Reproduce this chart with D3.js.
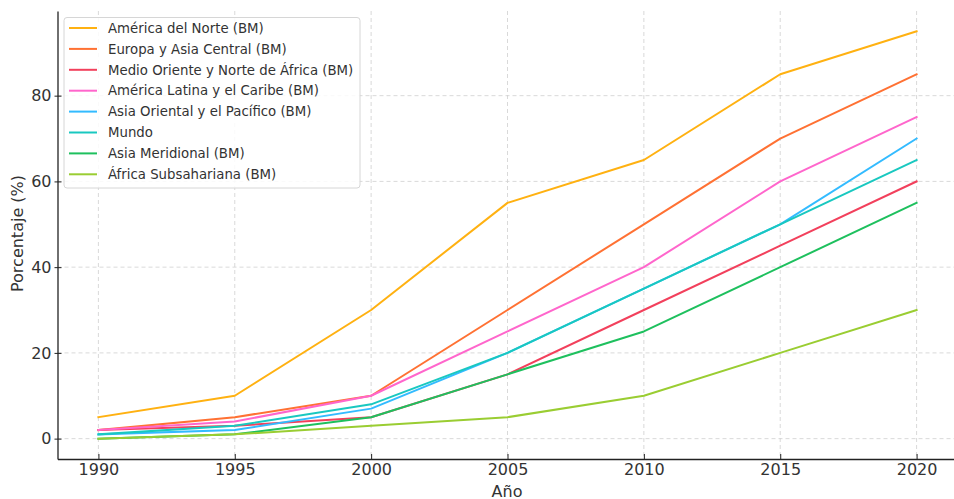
<!DOCTYPE html>
<html>
<head>
<meta charset="utf-8">
<script src="https://cdn.jsdelivr.net/npm/d3@7"></script>
<style>
  html, body { margin: 0; padding: 0; background: #fff; }
  svg { display: block; font-family: "DejaVu Sans", sans-serif; }
</style>
</head>
<body>
<svg id="chart" width="954" height="499"></svg>
<script>
// Years on the x axis
const years = [1990, 1995, 2000, 2005, 2010, 2015, 2020];

// Region names (legend order)
const regions = [
  "América del Norte (BM)",
  "Europa y Asia Central (BM)",
  "Medio Oriente y Norte de África (BM)",
  "América Latina y el Caribe (BM)",
  "Asia Oriental y el Pacífico (BM)",
  "Mundo",
  "Asia Meridional (BM)",
  "África Subsahariana (BM)"
];

// Percentage values per region, one per year
const norteAmerica   = [5, 10, 30, 55, 65, 85, 95];
const europaAsia     = [2, 5, 10, 30, 50, 70, 85];
const medioOriente   = [2, 3, 5, 15, 30, 45, 60];
const americaLatina  = [2, 4, 10, 25, 40, 60, 75];
const asiaOriental   = [1, 2, 7, 20, 35, 50, 70];
const mundo          = [1, 3, 8, 20, 35, 50, 65];
const asiaMeridional = [0, 1, 5, 15, 25, 40, 55];
const africaSub      = [0, 1, 3, 5, 10, 20, 30];

const seriesValues = [norteAmerica, europaAsia, medioOriente, americaLatina,
                      asiaOriental, mundo, asiaMeridional, africaSub];

const colors = ["#ffb111", "#ff7133", "#f2405c", "#ff66cc",
                "#33bbff", "#19c8c0", "#1ec05e", "#9acd32"];

const xTicks = years;
const yTicks = [0, 20, 40, 60, 80];

const svg = d3.select("#chart");
const plotLeft = 57.5, plotRight = 957.5, plotTop = 11, plotBottom = 459;

const x = d3.scaleLinear().domain([1988.5, 2021.5]).range([plotLeft, plotRight]);
const y = d3.scaleLinear().domain([-4.75, 99.75]).range([plotBottom, plotTop]);

// Grid
const grid = svg.append("g").attr("stroke", "#cfcfcf").attr("stroke-width", 0.8)
  .attr("stroke-dasharray", "4,3");
grid.selectAll(".gx").data(xTicks).join("line").attr("class", "gx")
  .attr("x1", d => x(d)).attr("x2", d => x(d)).attr("y1", plotTop).attr("y2", plotBottom);
grid.selectAll(".gy").data(yTicks).join("line").attr("class", "gy")
  .attr("y1", d => y(d)).attr("y2", d => y(d)).attr("x1", plotLeft).attr("x2", plotRight);

// Axes
const xAxis = d3.axisBottom(x).tickValues(xTicks).tickFormat(d3.format("d"))
  .tickSizeInner(-5).tickSizeOuter(0).tickPadding(5);
const yAxis = d3.axisLeft(y).tickValues(yTicks)
  .tickSizeInner(3).tickSizeOuter(0).tickPadding(3);

const gx = svg.append("g").attr("transform", `translate(0,${plotBottom})`).call(xAxis);
const gy = svg.append("g").attr("transform", `translate(${plotLeft},0)`).call(yAxis);
[gx, gy].forEach(g => {
  g.select(".domain").attr("stroke", "#222").attr("stroke-width", 1.3);
  g.selectAll(".tick line").attr("stroke", "#222").attr("stroke-width", 1);
  g.selectAll(".tick text").attr("fill", "#333").style("font-size", "16px")
    .style("font-family", "'DejaVu Sans', sans-serif");
});
gy.selectAll(".tick line").attr("x1", 4).attr("x2", -3);

// Axis titles
svg.append("text").attr("x", 507).attr("y", 496.5)
  .attr("text-anchor", "middle").attr("fill", "#333").style("font-size", "16px").text("Año");
svg.append("text").attr("transform", `translate(23,233.5) rotate(-90)`)
  .attr("text-anchor", "middle").attr("fill", "#333").style("font-size", "16px")
  .text("Porcentaje (%)");

// Lines
const line = d3.line().x((d, i) => x(years[i])).y(d => y(d));
svg.append("g").selectAll("path").data(seriesValues).join("path")
  .attr("d", d => line(d)).attr("fill", "none")
  .attr("stroke", (d, i) => colors[i]).attr("stroke-width", 2)
  .attr("stroke-linejoin", "round").attr("stroke-linecap", "square");

// Legend
const lg = svg.append("g");
lg.append("rect").attr("x", 64).attr("y", 17.5).attr("width", 296).attr("height", 170.5)
  .attr("rx", 3).attr("fill", "rgba(255,255,255,0.85)").attr("stroke", "#d6d6d6");
const items = lg.selectAll(".item").data(regions).join("g").attr("class", "item")
  .attr("transform", (d, i) => `translate(0,${28 + i * 20.9})`);
items.append("line").attr("x1", 69).attr("x2", 97).attr("y1", 0).attr("y2", 0)
  .attr("stroke", (d, i) => colors[i]).attr("stroke-width", 2);
items.append("text").attr("x", 108).attr("y", 0).attr("dy", "0.36em")
  .attr("fill", "#333").style("font-size", "13.3px").text(d => d);
</script>
</body>
</html>
